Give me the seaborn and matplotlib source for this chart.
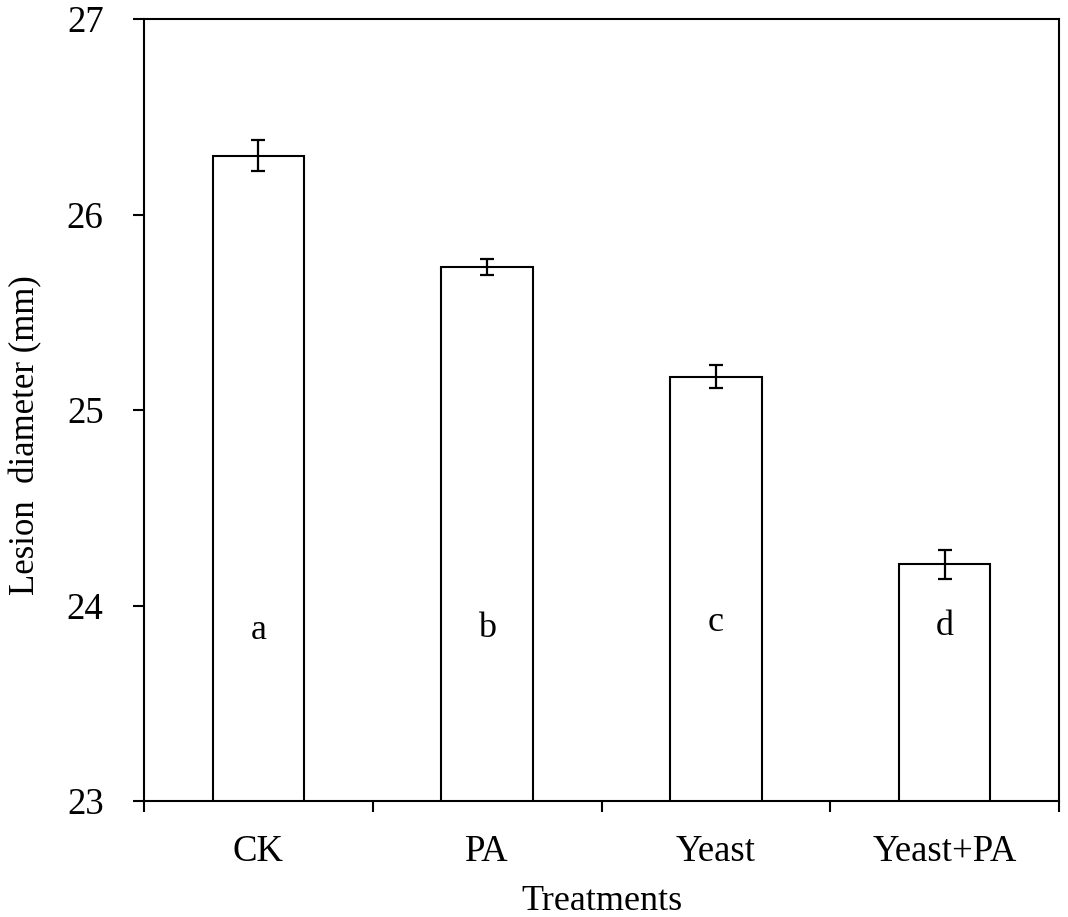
import matplotlib
matplotlib.use("Agg")
import matplotlib.pyplot as plt
import seaborn as sns
import pandas as pd
from matplotlib.ticker import FixedLocator, NullFormatter

treatments = ["CK", "PA", "Yeast", "Yeast+PA"]
diameter = [26.30, 25.73, 25.17, 24.21]
err = [0.08, 0.04, 0.06, 0.075]
letters = ["a", "b", "c", "d"]
letter_y = [23.83, 23.84, 23.87, 23.85]

sns.set_style("ticks")
plt.rcParams["font.family"] = ["Liberation Serif", "DejaVu Serif"]
plt.rcParams["text.color"] = "black"
plt.rcParams["axes.labelcolor"] = "black"
plt.rcParams["xtick.color"] = "black"
plt.rcParams["ytick.color"] = "black"

df = pd.DataFrame({"Treatments": treatments, "Lesion diameter (mm)": diameter})

fig = plt.figure(figsize=(10.68, 9.17), dpi=100)
ax = fig.add_axes([144 / 1068, 1 - 801 / 917, 915 / 1068, 782 / 917])

sns.barplot(data=df, x="Treatments", y="Lesion diameter (mm)", color="white",
            edgecolor="black", linewidth=1.5, width=0.4, errorbar=None, ax=ax)
ax.errorbar(range(len(treatments)), diameter, yerr=err, fmt="none",
            ecolor="black", elinewidth=1.6, capsize=5, capthick=1.6)

for i, (lab, yy) in enumerate(zip(letters, letter_y)):
    ax.text(i, yy, lab, ha="center", va="baseline", fontsize=26, color="black")

ax.set_ylim(23, 27)
ax.set_xlim(-0.5, 3.5)
ax.set_yticks([23, 24, 25, 26, 27])

# boundary ticks as major, labels on minor ticks at category centres
ax.xaxis.set_major_locator(FixedLocator([-0.5, 0.5, 1.5, 2.5, 3.5]))
ax.xaxis.set_major_formatter(NullFormatter())
ax.xaxis.set_minor_locator(FixedLocator(range(len(treatments))))
ax.set_xticklabels(treatments, minor=True)
ax.tick_params(axis="x", which="minor", length=0, pad=24, labelsize=26.5)
ax.tick_params(axis="x", which="major", length=8, width=1.5, direction="out")
ax.tick_params(axis="y", length=8, width=1.5, direction="out", pad=21, labelsize=26.5)

for s in ax.spines.values():
    s.set_linewidth(1.5)
    s.set_color("black")

ax.set_xlabel("Treatments", fontsize=26, labelpad=12)
ax.set_ylabel("Lesion  diameter (mm)", fontsize=25)
ax.yaxis.set_label_coords(-0.1115, 0.468)

fig.savefig("out.png", dpi=100)
